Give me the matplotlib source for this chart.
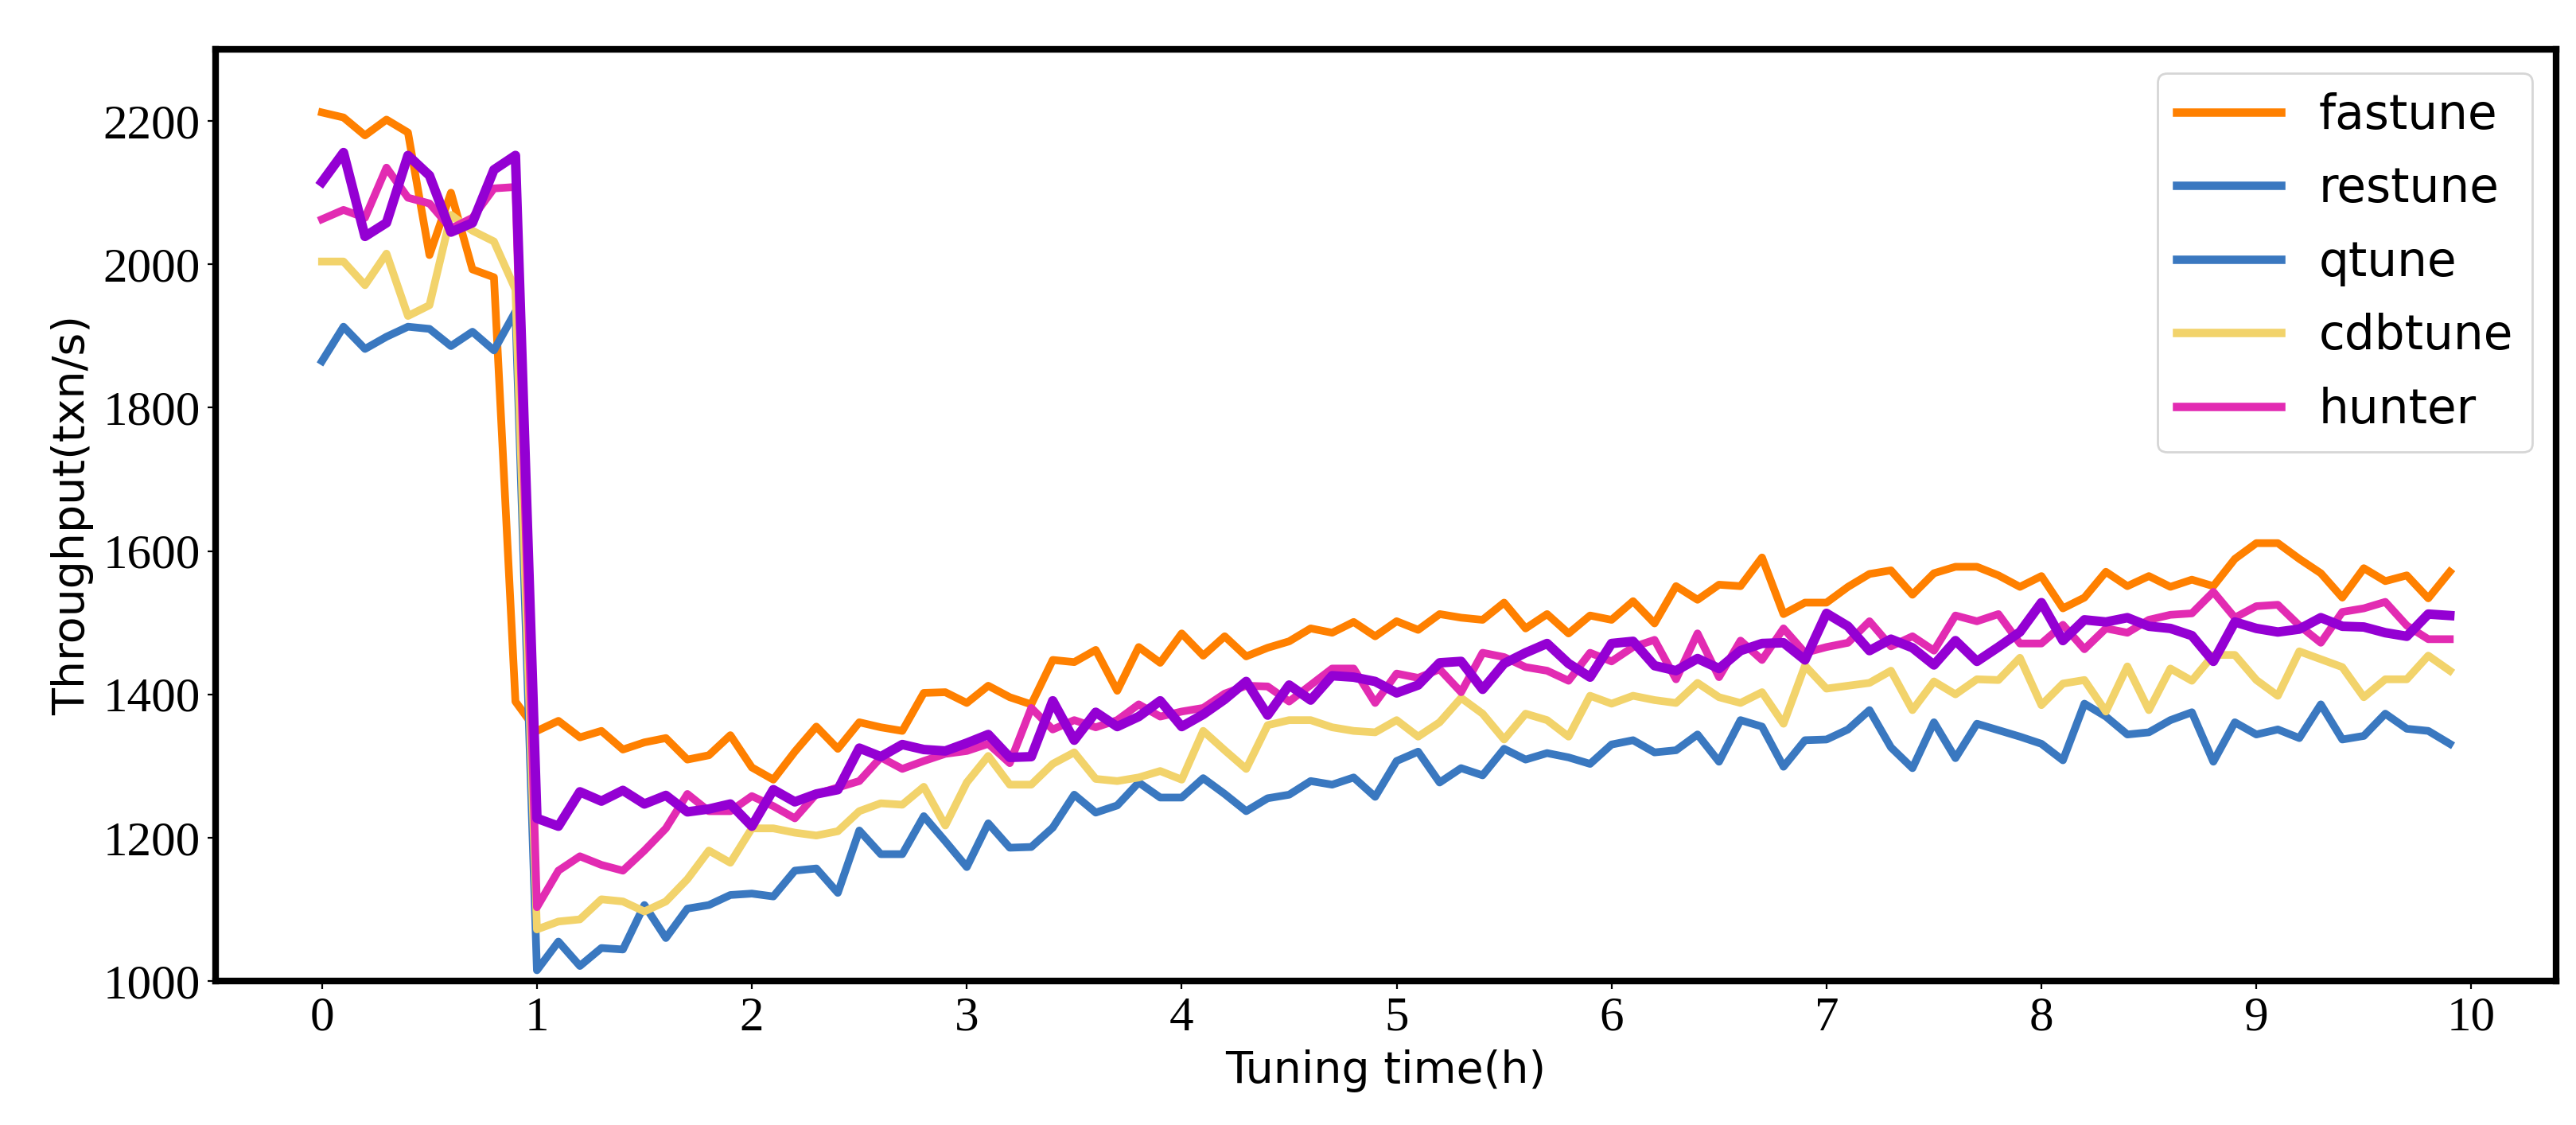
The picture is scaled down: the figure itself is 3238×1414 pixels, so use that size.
import numpy as np
import matplotlib
matplotlib.use("Agg")
import matplotlib.pyplot as plt
from matplotlib.lines import Line2D

# tuning time in hours, one sample every 6 minutes
hours = np.arange(100) / 10

fastune = [2212, 2205, 2180, 2202, 2184, 2013, 2100, 1993, 1982, 1390,
           1349, 1363, 1340, 1349, 1323, 1333, 1339, 1309, 1315, 1343,
           1298, 1281, 1320, 1355, 1324, 1361, 1354, 1349, 1402, 1403,
           1388, 1412, 1396, 1386, 1448, 1445, 1462, 1405, 1466, 1444,
           1485, 1454, 1481, 1453, 1465, 1474, 1492, 1486, 1501, 1481,
           1502, 1490, 1512, 1507, 1504, 1528, 1492, 1512, 1485, 1510,
           1504, 1530, 1499, 1551, 1532, 1553, 1551, 1591, 1512, 1528,
           1528, 1550, 1568, 1573, 1539, 1569, 1578, 1578, 1566, 1550,
           1565, 1520, 1535, 1571, 1551, 1565, 1550, 1560, 1551, 1589,
           1611, 1611, 1589, 1569, 1535, 1576, 1558, 1566, 1534, 1571]

restune = [1865, 1913, 1882, 1899, 1913, 1910, 1886, 1906, 1880, 1934,
           1015, 1055, 1021, 1046, 1044, 1106, 1060, 1101, 1106, 1120,
           1122, 1118, 1154, 1157, 1123, 1210, 1177, 1177, 1230, 1195,
           1159, 1220, 1186, 1187, 1214, 1260, 1235, 1245, 1277, 1256,
           1256, 1283, 1261, 1237, 1255, 1260, 1279, 1274, 1284, 1257,
           1307, 1320, 1277, 1297, 1287, 1324, 1309, 1318, 1312, 1303,
           1330, 1336, 1319, 1322, 1344, 1306, 1364, 1355, 1299, 1336,
           1337, 1351, 1378, 1326, 1297, 1361, 1311, 1359, 1350, 1341,
           1331, 1308, 1387, 1369, 1344, 1347, 1364, 1375, 1306, 1361,
           1344, 1351, 1339, 1386, 1337, 1342, 1373, 1352, 1349, 1331]

cdbtune = [2004, 2004, 1971, 2015, 1928, 1943, 2069, 2047, 2032, 1965,
           1072, 1083, 1086, 1114, 1111, 1097, 1111, 1142, 1182, 1165,
           1213, 1213, 1207, 1203, 1209, 1237, 1248, 1246, 1271, 1217,
           1277, 1314, 1274, 1274, 1303, 1319, 1282, 1279, 1284, 1293,
           1281, 1349, 1322, 1296, 1357, 1364, 1364, 1354, 1349, 1347,
           1364, 1341, 1361, 1395, 1373, 1337, 1373, 1364, 1341, 1398,
           1387, 1398, 1392, 1388, 1416, 1396, 1388, 1403, 1359, 1440,
           1408, 1412, 1416, 1433, 1378, 1418, 1400, 1421, 1420, 1451,
           1385, 1415, 1420, 1376, 1439, 1378, 1436, 1419, 1455, 1455,
           1420, 1398, 1460, 1449, 1438, 1396, 1421, 1421, 1454, 1433]

hunter = [2063, 2076, 2065, 2135, 2093, 2085, 2050, 2065, 2106, 2108,
          1103, 1154, 1174, 1162, 1154, 1182, 1213, 1261, 1237, 1237,
          1258, 1244, 1227, 1261, 1270, 1279, 1312, 1296, 1307, 1317,
          1321, 1331, 1304, 1381, 1351, 1364, 1354, 1364, 1386, 1369,
          1376, 1381, 1401, 1412, 1411, 1390, 1413, 1436, 1436, 1388,
          1429, 1423, 1435, 1403, 1458, 1452, 1438, 1433, 1419, 1458,
          1446, 1466, 1476, 1421, 1485, 1424, 1475, 1448, 1492, 1458,
          1466, 1472, 1502, 1467, 1481, 1461, 1510, 1502, 1512, 1471,
          1471, 1497, 1463, 1492, 1486, 1504, 1511, 1513, 1543, 1507,
          1523, 1525, 1496, 1472, 1515, 1520, 1529, 1496, 1477, 1477]

# purple series, drawn but left out of the legend
unlabeled = [2115, 2156, 2039, 2058, 2152, 2124, 2045, 2058, 2132, 2152,
             1227, 1216, 1264, 1251, 1266, 1247, 1259, 1236, 1240, 1247,
             1216, 1267, 1250, 1261, 1267, 1325, 1313, 1330, 1323, 1321,
             1332, 1344, 1312, 1313, 1391, 1336, 1375, 1355, 1369, 1391,
             1355, 1372, 1393, 1418, 1371, 1413, 1392, 1426, 1424, 1418,
             1402, 1413, 1444, 1446, 1407, 1443, 1458, 1471, 1443, 1424,
             1471, 1474, 1440, 1433, 1450, 1436, 1461, 1471, 1472, 1448,
             1513, 1495, 1461, 1477, 1465, 1441, 1475, 1446, 1466, 1487,
             1528, 1475, 1504, 1501, 1507, 1495, 1492, 1482, 1446, 1501,
             1492, 1487, 1491, 1507, 1495, 1494, 1486, 1481, 1512, 1510]

c_orange = "#ff8000"
c_blue = "#3a78c0"
c_yellow = "#f2d36b"
c_pink = "#e22bb2"
c_purple = "#9400d3"

fig = plt.figure(figsize=(16.19, 7.07), dpi=200)
ax = fig.add_axes([0.0837, 0.128, 0.9086, 0.8281])

ax.plot(hours, fastune, color=c_orange, lw=3.5)
ax.plot(hours, restune, color=c_blue, lw=3.5)
ax.plot(hours, cdbtune, color=c_yellow, lw=3.5)
ax.plot(hours, hunter, color=c_pink, lw=3.5)
ax.plot(hours, unlabeled, color=c_purple, lw=4.3)

ax.set_ylim(1000, 2300)
ax.set_xticks(range(11))
ax.set_yticks(range(1000, 2201, 200))

for lab in ax.get_xticklabels() + ax.get_yticklabels():
    lab.set_fontfamily("Liberation Serif")
    lab.set_fontsize(22)

ax.set_xlabel("Tuning time(h)", fontsize=20, family="DejaVu Sans")
ax.set_ylabel("Throughput(txn/s)", fontsize=20, family="DejaVu Sans")

for sp in ax.spines.values():
    sp.set_linewidth(3)

handles = [Line2D([], [], color=c, lw=3.8) for c in [c_orange, c_blue, c_blue, c_yellow, c_pink]]
names = ["fastune", "restune", "qtune", "cdbtune", "hunter"]
ax.legend(handles, names, loc="upper right", fontsize=21.5, handlelength=2.2,
          labelspacing=0.56)

fig.savefig("out.png", dpi=200)
